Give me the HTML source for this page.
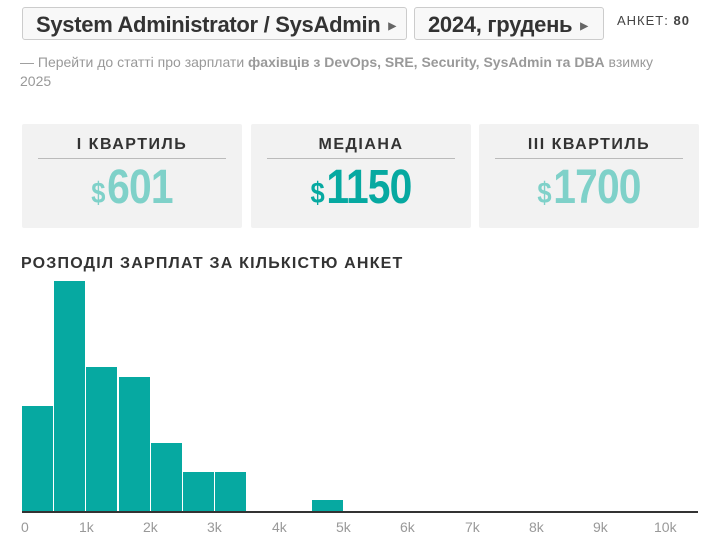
<!DOCTYPE html>
<html><head><meta charset="utf-8"><style>
body{margin:0;width:716px;height:538px;background:#fff;font-family:"Liberation Sans",sans-serif;position:relative;overflow:hidden}
.btn{position:absolute;top:7px;height:33px;border:1px solid #ccc;border-radius:3px;background:#f8f8f8;font-weight:bold;font-size:22px;color:#333;line-height:33px;padding-left:13px;box-sizing:border-box;letter-spacing:-0.3px}
.btn span{font-size:10px;color:#666;margin-left:8px;vertical-align:middle}
.card{position:absolute;top:124px;height:104px;width:220px;background:#f2f2f2;border-radius:2px;text-align:center}
.card .t{position:absolute;left:16px;right:16px;top:12px;padding-bottom:4px;border-bottom:1px solid #bbb;font-size:16px;font-weight:bold;letter-spacing:1.5px;color:#333}
.card .n{position:absolute;left:0;right:0;top:36px;font-size:48px;font-weight:bold;color:#7fd1c9;letter-spacing:-1px;transform:scaleX(0.85)}
.card .n small{font-size:30px;margin-right:3px}
.bar{position:absolute;background:#06a9a1;bottom:27px}
.tk{position:absolute;top:519px;font-size:14px;color:#999}
</style></head><body>
<div class="btn" style="left:22px;width:385px">System Administrator / SysAdmin<span>▶</span></div>
<div class="btn" style="left:414px;width:190px">2024, грудень<span>▶</span></div>
<div style="position:absolute;left:617px;top:13px;font-size:13px;color:#444;letter-spacing:1px">АНКЕТ: <b>80</b></div>
<div style="position:absolute;left:20px;top:53px;width:655px;font-size:14px;color:#999;line-height:19px">— Перейти до статті про зарплати <b>фахівців з DevOps, SRE, Security, SysAdmin та DBA</b> взимку 2025</div>
<div class="card" style="left:22px"><div class="t">I КВАРТИЛЬ</div><div class="n"><small>$</small>601</div></div>
<div class="card" style="left:251px"><div class="t">МЕДІАНА</div><div class="n" style="color:#06a9a1"><small>$</small>1150</div></div>
<div class="card" style="left:479px"><div class="t">III КВАРТИЛЬ</div><div class="n"><small>$</small>1700</div></div>
<div style="position:absolute;left:21px;top:255px;font-size:16px;font-weight:bold;letter-spacing:1.2px;color:#333">РОЗПОДІЛ ЗАРПЛАТ ЗА КІЛЬКІСТЮ АНКЕТ</div>
<div class="bar" style="left:22px;width:31px;top:406px"></div>
<div class="bar" style="left:54px;width:31px;top:281px"></div>
<div class="bar" style="left:86px;width:31px;top:367px"></div>
<div class="bar" style="left:119px;width:31px;top:377px"></div>
<div class="bar" style="left:151px;width:31px;top:443px"></div>
<div class="bar" style="left:183px;width:31px;top:472px"></div>
<div class="bar" style="left:215px;width:31px;top:472px"></div>
<div class="bar" style="left:312px;width:31px;top:500px"></div>
<div style="position:absolute;left:22px;width:676px;top:511px;height:2px;background:#333"></div>
<div class="tk" style="left:21px">0</div>
<div class="tk" style="left:79px">1k</div>
<div class="tk" style="left:143px">2k</div>
<div class="tk" style="left:207px">3k</div>
<div class="tk" style="left:272px">4k</div>
<div class="tk" style="left:336px">5k</div>
<div class="tk" style="left:400px">6k</div>
<div class="tk" style="left:465px">7k</div>
<div class="tk" style="left:529px">8k</div>
<div class="tk" style="left:593px">9k</div>
<div class="tk" style="left:654px">10k</div>
</body></html>
